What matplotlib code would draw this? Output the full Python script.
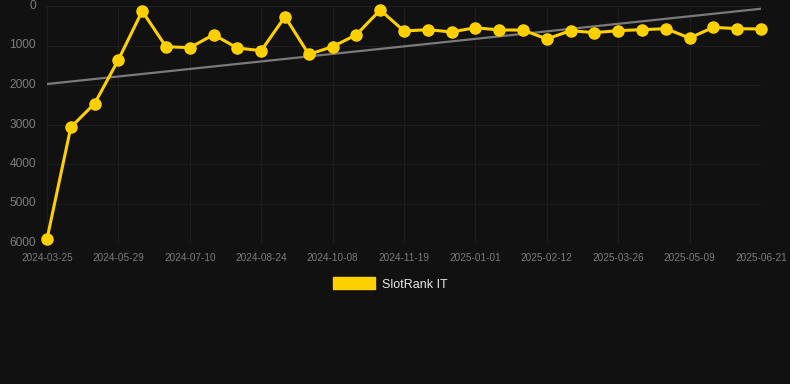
import matplotlib
matplotlib.use("Agg")
import matplotlib.pyplot as plt
import matplotlib.patches as mpatches
import numpy as np

# rank values, one point per sample (categorical x)
ranks = [5900, 3070, 2470, 1360, 130, 1030, 1055, 727, 1063, 1131,
         270, 1224, 1030, 727, 101, 633, 599, 658, 549, 608,
         608, 835, 624, 675, 624, 599, 574, 810, 540, 574, 582]
tick_dates = ['2024-03-25', '2024-05-29', '2024-07-10', '2024-08-24',
              '2024-10-08', '2024-11-19', '2025-01-01', '2025-02-12',
              '2025-03-26', '2025-05-09', '2025-06-21']
trend = [1975, 70]   # trend line start / end
yticks = [0, 1000, 2000, 3000, 4000, 5000, 6000]

bg = '#111111'
yellow = '#FFD000'

plt.rcParams['font.family'] = ['Liberation Sans', 'DejaVu Sans']

fig = plt.figure(figsize=(7.9, 3.84), dpi=100, facecolor=bg)
ax = fig.add_axes([47/790, 1-243/384, 714/790, 237/384], facecolor=bg)

x = np.arange(len(ranks))
ax.plot([x[0], x[-1]], trend, color='#7a7a7a', lw=1.6, zorder=2)
ax.plot(x, ranks, color=yellow, lw=2.2, marker='o', ms=8, zorder=3,
        solid_joinstyle='round', clip_on=False)

ax.set_xlim(x[0], x[-1])
ax.set_ylim(6000, 0)
ax.set_yticks(yticks)
ax.set_xticks(x[::3])
ax.set_xticklabels(tick_dates)

ax.grid(True, color='#1d1d1d', lw=0.8)
ax.set_axisbelow(True)
for s in ax.spines.values():
    s.set_visible(False)
ax.tick_params(axis='both', length=0, colors='#7c7c7c')
ax.tick_params(axis='y', labelsize=8.6, pad=8)
ax.tick_params(axis='x', labelsize=7.2, pad=7)
for lbl in ax.get_yticklabels():
    lbl.set_verticalalignment('center')

# legend
patch = mpatches.Rectangle((0, 0), 1, 1, color=yellow)
leg = fig.legend([patch], ['SlotRank IT'], loc='center', bbox_to_anchor=(390/790, 1-284/384),
                 frameon=False, handlelength=3.4, handleheight=1.1, handletextpad=0.5,
                 fontsize=9)
for t in leg.get_texts():
    t.set_color('#e6e6e6')

fig.savefig('out.png', dpi=100, facecolor=bg)
